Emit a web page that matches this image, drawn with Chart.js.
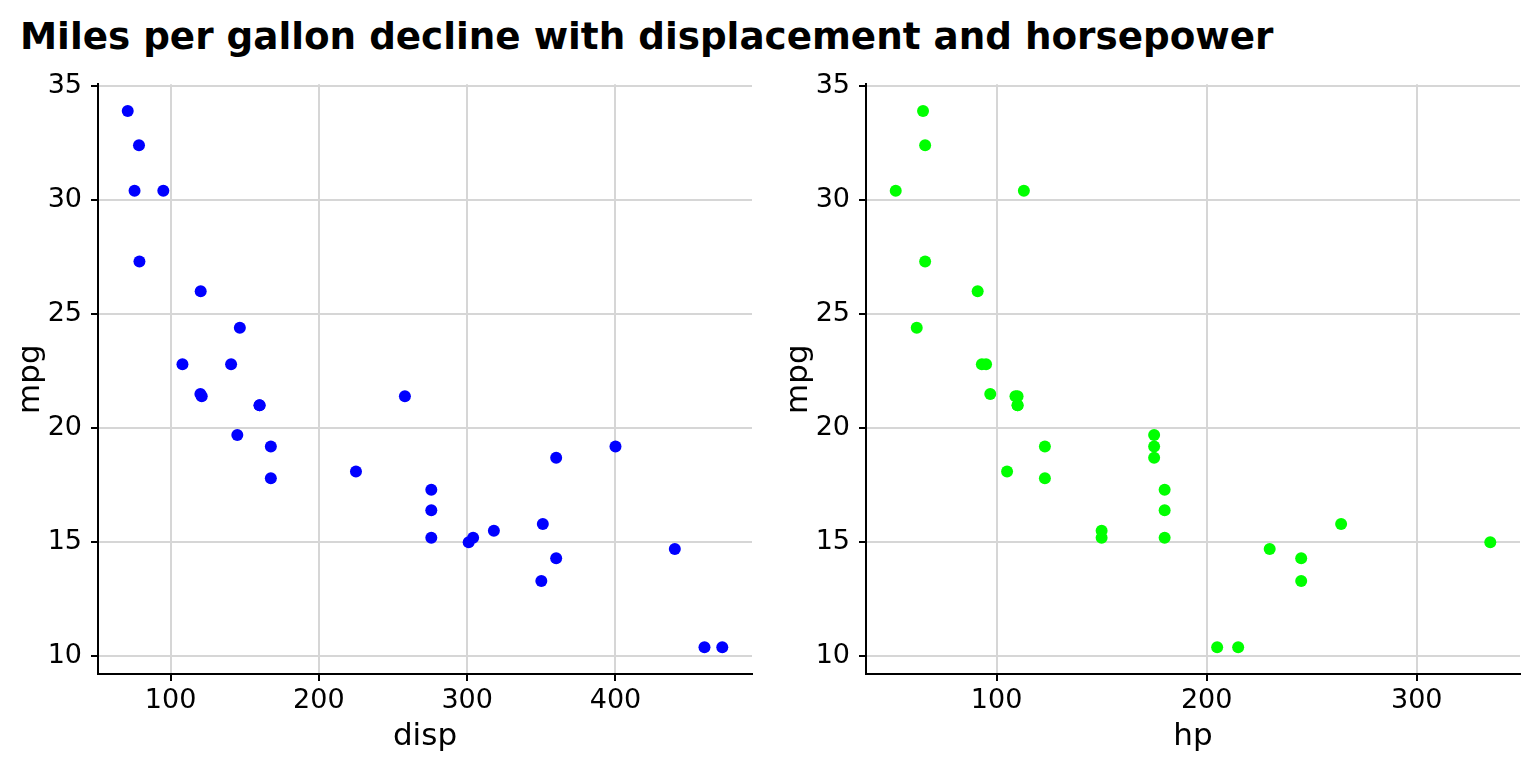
<!DOCTYPE html>
<html>
<head>
<meta charset="utf-8">
<script src="https://cdn.jsdelivr.net/npm/chart.js@4.4.1/dist/chart.umd.min.js"></script>
<style>
  body { margin: 0; background: #fff; width: 1536px; height: 768px; overflow: hidden; position: relative; }
  #title { position: absolute; left: 20px; top: 14px; font: bold 37.3px "DejaVu Sans"; color: #000; white-space: nowrap; }
  .panel { position: absolute; top: 59px; height: 709px; }
  #left { left: 0; width: 760px; }
  #right { left: 768px; width: 768px; }
</style>
</head>
<body>
<div id="title">Miles per gallon decline with displacement and horsepower</div>
<div class="panel" id="left"><canvas id="disp-chart"></canvas></div>
<div class="panel" id="right"><canvas id="hp-chart"></canvas></div>
<script>
// Datos (mtcars)
const mpg  = [21.0, 21.0, 22.8, 21.4, 18.7, 18.1, 14.3, 24.4, 22.8, 19.2, 17.8, 16.4, 17.3, 15.2, 10.4, 10.4,
              14.7, 32.4, 30.4, 33.9, 21.5, 15.5, 15.2, 13.3, 19.2, 27.3, 26.0, 30.4, 15.8, 19.7, 15.0, 21.4];
const disp = [160, 160, 108, 258, 360, 225, 360, 146.7, 140.8, 167.6, 167.6, 275.8, 275.8, 275.8, 472, 460,
              440, 78.7, 75.7, 71.1, 120.1, 318, 304, 350, 400, 79, 120.3, 95.1, 351, 145, 301, 121];
const hp   = [110, 110, 93, 110, 175, 105, 245, 62, 95, 123, 123, 180, 180, 180, 205, 215,
              230, 66, 52, 65, 97, 150, 150, 245, 175, 66, 91, 113, 264, 175, 335, 109];

const mpgTicks  = [10, 15, 20, 25, 30, 35];
const dispTicks = [100, 200, 300, 400];
const hpTicks   = [100, 200, 300];

// Rango con expansión del 5% como ggplot
function expand(values) {
    const lo = Math.min(...values), hi = Math.max(...values);
    const pad = (hi - lo) * 0.05;
    return { min: lo - pad, max: hi + pad };
}

const tickFont  = { family: 'DejaVu Sans', size: 27 };
const titleFont = { family: 'DejaVu Sans', size: 31 };

function makeChart(canvasId, xs, xTicks, xLabel, color, rightPad) {
    const xr = expand(xs);
    const yr = expand(mpg);
    return new Chart(document.getElementById(canvasId), {
        type: 'scatter',
        data: {
            datasets: [{
                data: xs.map((x, i) => ({ x: x, y: mpg[i] })),
                backgroundColor: color,
                borderWidth: 0,
                pointRadius: 6,
                pointHoverRadius: 6
            }]
        },
        options: {
            responsive: true,
            maintainAspectRatio: false,
            animation: false,
            layout: { padding: { top: 0, right: rightPad, bottom: 0, left: 0 } },
            plugins: { legend: { display: false }, tooltip: { enabled: false } },
            scales: {
                x: {
                    type: 'linear',
                    min: xr.min,
                    max: xr.max,
                    afterBuildTicks: s => { s.ticks = xTicks.map(v => ({ value: v })); },
                    afterFit: s => { s.height = 94; },
                    grid: { color: '#d6d6d6', lineWidth: 2, tickColor: '#000', tickLength: 7 },
                    border: { display: true, color: '#000', width: 2 },
                    ticks: { font: tickFont, color: '#000', padding: 4, autoSkip: false, maxRotation: 0 },
                    title: { display: true, text: xLabel, font: titleFont, color: '#000', padding: { top: 0, bottom: 12 } }
                },
                y: {
                    type: 'linear',
                    min: yr.min,
                    max: yr.max,
                    afterBuildTicks: s => { s.ticks = mpgTicks.map(v => ({ value: v })); },
                    afterFit: s => { s.width = 98; },
                    grid: { color: '#d6d6d6', lineWidth: 2, tickColor: '#000', tickLength: 7 },
                    border: { display: true, color: '#000', width: 2 },
                    ticks: { font: tickFont, color: '#000', padding: 9, autoSkip: false },
                    title: { display: true, text: 'mpg', font: titleFont, color: '#000', padding: { top: 12, bottom: 0 } }
                }
            }
        }
    });
}

makeChart('disp-chart', disp, dispTicks, 'disp', '#0000ff', 8);
makeChart('hp-chart', hp, hpTicks, 'hp', '#00ff00', 16);
</script>
</body>
</html>
